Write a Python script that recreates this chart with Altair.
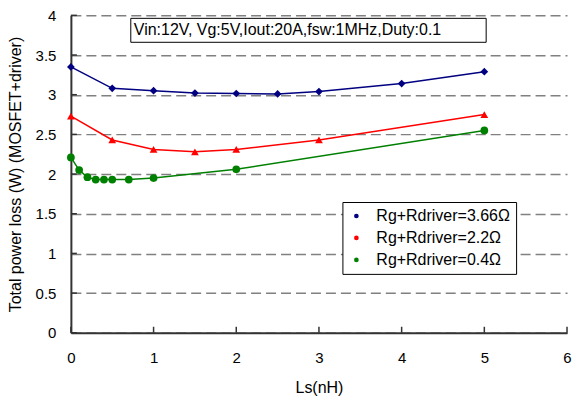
import altair as alt
import pandas as pd

series_names = ["Rg+Rdriver=3.66Ω", "Rg+Rdriver=2.2Ω", "Rg+Rdriver=0.4Ω"]
series_colors = ["#000080", "#FF0000", "#008000"]
series_shapes = ["diamond", "triangle-up", "circle"]

ls_366 = [0, 0.5, 1, 1.5, 2, 2.5, 3, 4, 5]
loss_366 = [3.35, 3.08, 3.05, 3.02, 3.015, 3.01, 3.04, 3.14, 3.29]
ls_22 = [0, 0.5, 1, 1.5, 2, 3, 5]
loss_22 = [2.73, 2.43, 2.31, 2.28, 2.31, 2.43, 2.75]
ls_04 = [0, 0.1, 0.2, 0.3, 0.4, 0.5, 0.7, 1, 2, 5]
loss_04 = [2.21, 2.05, 1.96, 1.93, 1.93, 1.93, 1.93, 1.95, 2.06, 2.55]

x_ticks = [0, 1, 2, 3, 4, 5, 6]
y_ticks = [0, 0.5, 1, 1.5, 2, 2.5, 3, 3.5, 4]
annotation = ["Vin:12V, Vg:5V,Iout:20A,fsw:1MHz,Duty:0.1"]

rows = []
for name, xs, ys in zip(series_names, [ls_366, ls_22, ls_04], [loss_366, loss_22, loss_04]):
    for a, b in zip(xs, ys):
        rows.append({"series": name, "Ls": a, "loss": b})
df = pd.DataFrame(rows)

FONT = "Liberation Sans"
W, H = 497, 318

xscale = alt.Scale(domain=[0, 6], nice=False, zero=False)
yscale = alt.Scale(domain=[0, 4], nice=False)
color = alt.Color("series:N", scale=alt.Scale(domain=series_names, range=series_colors),
                  sort=series_names,
                  legend=alt.Legend(title=None, orient="none", legendX=272, legendY=187,
                                    strokeColor="#000000", fillColor="#ffffff", padding=6,
                                    symbolSize=22, labelFontSize=16, labelFont=FONT,
                                    rowPadding=6, labelOffset=12, labelColor="#000000",
                                    labelLimit=300))
shape = alt.Shape("series:N", scale=alt.Scale(domain=series_names, range=series_shapes),
                  sort=series_names, legend=None)

xaxis = alt.Axis(values=x_ticks, ticks=False, grid=False, domainColor="#333333", domainWidth=2,
                 labelFontSize=15, labelFont=FONT, labelPadding=18, labelColor="#000000",
                 format="~g", labelOverlap=False,
                 title="Ls(nH)", titleFontSize=16, titleFont=FONT, titleFontWeight="normal",
                 titlePadding=14, titleColor="#000000", labelFlush=False)
yaxis = alt.Axis(values=y_ticks, ticks=False, grid=True, gridDash=[10, 5], gridColor="#808080",
                 gridWidth=1.5, domainColor="#333333", domainWidth=2,
                 labelFontSize=15, labelFont=FONT, labelPadding=15, labelColor="#000000",
                 format="~g", labelOverlap=False,
                 title="Total power loss (W) (MOSFET+driver)", titleFontSize=16, titleFont=FONT,
                 titleFontWeight="normal", titlePadding=12, titleColor="#000000", labelFlush=False)

base = alt.Chart(df)
lines = base.mark_line(strokeWidth=1.5).encode(
    x=alt.X("Ls:Q", scale=xscale, axis=xaxis),
    y=alt.Y("loss:Q", scale=yscale, axis=yaxis),
    color=alt.Color("series:N", scale=alt.Scale(domain=series_names, range=series_colors), legend=None),
    detail="series:N",
)
points = base.mark_point(filled=True, opacity=1, size=60).encode(
    x=alt.X("Ls:Q", scale=xscale, axis=xaxis),
    y=alt.Y("loss:Q", scale=yscale, axis=yaxis),
    color=color,
    shape=shape,
)

ytick_df = pd.DataFrame({"v": y_ticks})
xtick_df = pd.DataFrame({"v": x_ticks})
yticks = alt.Chart(ytick_df).mark_rule(color="#333333", strokeWidth=1.5).encode(
    y=alt.Y("v:Q", scale=yscale, axis=yaxis), x=alt.value(0), x2=alt.value(6))
xticks = alt.Chart(xtick_df).mark_rule(color="#333333", strokeWidth=1.5).encode(
    x=alt.X("v:Q", scale=xscale, axis=xaxis), y=alt.value(H), y2=alt.value(H - 6))

ann_df = pd.DataFrame({"t": annotation})
ann_box = alt.Chart(ann_df).mark_rect(fill="#ffffff", stroke="#000000", strokeWidth=1).encode(
    x=alt.value(60), x2=alt.value(416), y=alt.value(3), y2=alt.value(27))
ann_text = alt.Chart(ann_df).mark_text(align="left", baseline="middle", fontSize=16, font=FONT,
                                       color="#000000").encode(
    x=alt.value(63), y=alt.value(15), text="t:N")

chart = alt.layer(lines, points, yticks, xticks, ann_box, ann_text).properties(
    width=W, height=H,
    autosize=alt.AutoSizeParams(type="none"),
    padding={"left": 63, "top": 7, "right": 8, "bottom": 70},
).configure_view(stroke=None).resolve_scale(color="independent")

chart.save("out.html", embed_options={"renderer": "svg", "actions": False})
